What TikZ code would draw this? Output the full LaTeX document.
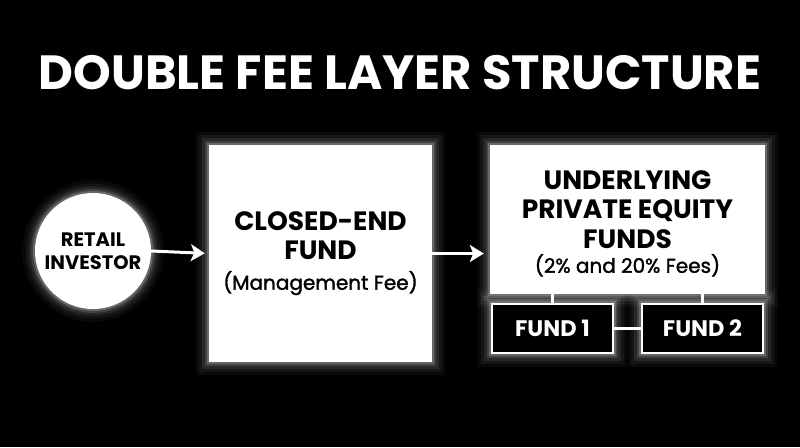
\documentclass[tikz,border=0pt]{standalone}
\usepackage{fontspec}
\setmainfont{Poppins}
\newfontface\medf{Poppins}[FakeBold=1.6]
\usetikzlibrary{arrows.meta}
\pgfdeclarelayer{bg}
\pgfsetlayers{bg,main}
\tikzset{
  whitebox/.style={draw=none, fill=white, inner sep=0pt, align=center, text=black},
  fundbox/.style={draw=white, line width=2.5pt, fill=black, inner sep=0pt, text=white,
    minimum width=121pt, minimum height=49pt, font=\bfseries\fontsize{22.5}{24}\selectfont},
  flow/.style={draw=white, line width=3pt, -{Stealth[length=14pt,width=17pt,inset=3.5pt]}},
  link/.style={draw=white, line width=2.5pt},
  bigtxt/.style={font=\bfseries\fontsize{26.5}{29}\selectfont},
  bigtxtb/.style={font=\bfseries\fontsize{26.5}{29.5}\selectfont},
}
\newcommand{\glowpath}[1]{%
  \foreach \w/\o in {26/0.035,19/0.05,13/0.08,8/0.12,4/0.2}{%
    \draw[white, line width=\w pt, opacity=\o] #1;}}
\newcommand{\smallm}{\medf\fontsize{20}{24}\selectfont}
\begin{document}
\begin{tikzpicture}[x=1pt,y=-1pt]
\useasboundingbox (0,0) rectangle (800,447);
\begin{pgfonlayer}{bg}
\fill[black] (0,0) rectangle (800,447);
\end{pgfonlayer}

\node[text=white, font=\bfseries\fontsize{48}{52}\selectfont] (title) at (400,73) {DOUBLE FEE LAYER STRUCTURE};

\node[circle, whitebox, minimum size=116pt, font=\bfseries\fontsize{19.5}{23}\selectfont] (ri) at (93,251) {RETAIL\\INVESTOR};

\node[whitebox, bigtxt, minimum width=223pt, minimum height=217pt] (cef) at (320.5,253.5)
  {CLOSED-END\\FUND\\[1pt]\smallm (Management Fee)};

\node[whitebox, minimum width=275pt, minimum height=149pt] (ul) at (627.5,219.5) {};
\node[bigtxtb, align=center, text=black, inner sep=0pt] (ultxt) at ([yshift=-4pt]ul.center)
  {UNDERLYING\\PRIVATE EQUITY\\FUNDS\\[-5pt]\smallm (2\% and 20\% Fees)};

\node[fundbox] (f1) at (552.5,328.5) {FUND 1};
\node[fundbox] (f2) at (702.5,328.5) {FUND 2};

\begin{pgfonlayer}{bg}
\glowpath{(ri.center) circle[radius=58]}
\glowpath{(cef.north west) rectangle (cef.south east)}
\glowpath{(ul.north west) rectangle (ul.south east)}
\glowpath{(f1.north west) rectangle (f1.south east)}
\glowpath{(f2.north west) rectangle (f2.south east)}
\end{pgfonlayer}

\draw[flow, shorten >=4pt] (ri.east) -- (cef.west);
\draw[flow, shorten >=6pt] (cef.east) -- (ul.west |- cef.east);
\draw[link] (f1.north) -- (f1.north |- ul.south);
\draw[link] (f2.north) -- (f2.north |- ul.south);
\draw[link] (f1.east) -- (f2.west);
\end{tikzpicture}
\end{document}
